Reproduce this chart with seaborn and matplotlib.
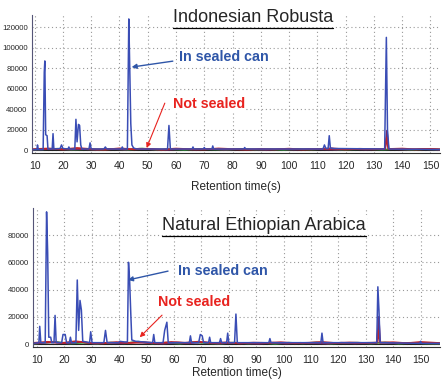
import matplotlib
matplotlib.use("Agg")
import matplotlib.pyplot as plt
import seaborn as sns
from matplotlib.ticker import MultipleLocator
from matplotlib.lines import Line2D

# ---- data ----
# top panel: Indonesian Robusta, sealed can (blue trace)
rob_sealed_t = [9, 10.8, 11, 11.3, 13, 13.4, 13.6, 13.9, 14.4, 14.7, 16.2, 16.5, 16.8,
                19, 19.5, 20, 21.8, 22.1, 22.4, 24.2, 24.6, 25, 25.5, 25.9, 26.3, 26.7,
                29.2, 29.6, 30, 34.5, 35, 35.5, 40.7, 41, 41.3, 42.8, 43.3, 43.6, 44.0,
                44.4, 45, 46, 57, 57.5, 58, 65.7, 66, 66.3, 69.7, 70, 70.3, 72.7, 73, 73.3,
                84, 84.3, 84.6, 112, 112.5, 113, 113.8, 114.2, 114.6, 116,
                133.8, 134.4, 134.8, 135.3, 153.5]
rob_sealed_y = [500, 500, 5000, 500, 500, 76000, 87000, 15000, 14000, 1000, 1000, 16000, 1000,
                1500, 5000, 1500, 1000, 3000, 1000, 1000, 30000, 8000, 25000, 24000, 5000, 1000,
                1000, 7000, 1000, 1000, 3000, 1000, 1000, 3000, 1000, 1000, 128000, 85000, 26000,
                5000, 2000, 1000, 1000, 24000, 1000, 1000, 3000, 1000, 1000, 2500, 1000, 1000, 4000, 1000,
                1000, 2500, 1000, 1000, 5000, 1500, 1500, 14000, 2000, 1500,
                1000, 110000, 20000, 1000, 500]
# top panel: not sealed (red) and other low traces
rob_open_t = [9, 15, 20, 25, 30, 35, 40, 45, 50, 55, 60, 65, 70, 75, 80, 85, 90, 95, 100,
              105, 110, 115, 120, 125, 130, 133.9, 134.5, 135.1, 140, 145, 150, 153.5]
rob_open_y = [800, 1500, 600, 2000, 900, 400, 1600, 700, 1200, 500, 1400, 800, 600, 1500, 900,
              400, 1100, 700, 1300, 500, 900, 1600, 600, 1200, 800, 1000, 12000, 1000, 1400, 600, 1100, 700]
rob_dark_t = [9, 17, 22, 27, 32, 37, 42, 47, 52, 57, 62, 67, 72, 77, 82, 87, 92, 97, 102,
              107, 112, 117, 122, 127, 132, 134, 134.6, 135.2, 142, 147, 153.5]
rob_dark_y = [300, 1200, 500, 900, 300, 1100, 400, 1300, 600, 200, 1000, 500, 1200, 300, 800,
              600, 200, 900, 400, 1000, 700, 300, 1100, 500, 900, 1000, 19000, 1000, 500, 1000, 400]
rob_green_t = [9, 13, 18, 23, 28, 33, 38, 43, 48, 53, 58, 63, 68, 73, 78, 83, 88, 93, 98, 103,
               108, 113, 118, 123, 128, 133, 138, 143, 148, 153.5]
rob_green_y = [200, 700, 1300, 300, 800, 500, 1000, 300, 1500, 400, 900, 200, 1100, 600, 300,
               1200, 400, 800, 200, 1000, 500, 1200, 300, 700, 1000, 400, 1100, 300, 900, 500]

# bottom panel: Natural Ethiopian Arabica, sealed can (blue trace)
eth_sealed_t = [8.5, 10.7, 11, 11.4, 13, 13.5, 13.9, 14.3, 15, 15.4, 16.2, 16.6, 17,
                19, 19.5, 20.3, 20.8, 21.8, 22.2, 22.6, 24.2, 24.7, 25.2, 25.7, 26.2, 26.7,
                29.2, 29.6, 30.1, 34.4, 35, 35.6, 39.8, 40.2, 42, 43, 43.4, 43.8, 44.2, 44.6, 46,
                52.2, 52.6, 53, 56, 56.6, 57.4, 57.9, 65.6, 66, 66.4, 69, 69.6, 70.3, 70.8,
                72.6, 73, 73.4, 76.6, 77, 77.4, 79.2, 79.6, 80, 82.1, 82.6, 83.1,
                94.6, 95, 95.4, 113.6, 114, 114.4, 134, 134.4, 134.8, 135.2,
                149.7, 150, 150.3, 157]
eth_sealed_y = [500, 1000, 13000, 1000, 1000, 97000, 67000, 5000, 5000, 1000, 1000, 21000, 1000,
                1000, 7000, 7000, 1000, 1000, 5000, 1000, 1000, 47000, 10000, 32000, 25000, 2000,
                1000, 9000, 1000, 1000, 10000, 1000, 1000, 2000, 1500, 1500, 60000, 47000, 24000, 3000, 2000,
                1000, 7000, 1000, 1000, 10000, 16000, 1000, 1000, 6000, 1000, 1000, 7000, 6000, 1000,
                1000, 5000, 1000, 1000, 4000, 1000, 1000, 8000, 1000, 1000, 22000, 1000,
                1000, 4000, 1000, 1000, 8000, 1000, 1000, 42000, 25000, 1000,
                500, 2000, 500, 500]
eth_open_t = [8.5, 14, 19, 24, 29, 34, 39, 44, 49, 54, 59, 64, 69, 74, 79, 84, 89, 94, 99,
              104, 109, 114, 119, 124, 129, 134, 134.5, 135, 140, 145, 150, 157]
eth_open_y = [800, 1600, 700, 2000, 900, 500, 1400, 800, 1300, 600, 1500, 900, 1700, 600, 1200,
              500, 1000, 800, 1300, 600, 900, 1500, 700, 1100, 800, 1000, 10000, 1000, 1300, 600, 1500, 700]
eth_dark_t = [8.5, 16, 21, 26, 31, 36, 41, 46, 51, 56, 61, 66, 71, 76, 81, 86, 91, 96, 101,
              106, 111, 116, 121, 126, 131, 134.1, 134.7, 135.3, 141, 146, 157]
eth_dark_y = [300, 1300, 500, 1500, 300, 1000, 500, 1200, 700, 300, 1100, 600, 1400, 300, 900,
              600, 300, 1000, 400, 900, 700, 300, 1000, 500, 800, 1000, 20000, 1000, 600, 900, 400]
eth_green_t = [8.5, 12, 17, 22, 27, 32, 37, 42, 47, 52, 57, 62, 67, 72, 77, 82, 87, 92, 97, 102,
               107, 112, 117, 122, 127, 132, 137, 142, 147, 152, 157]
eth_green_y = [200, 800, 1500, 400, 900, 300, 1100, 500, 1800, 400, 1000, 300, 1300, 600, 300,
               1100, 400, 900, 200, 1000, 500, 1200, 300, 800, 1000, 400, 1200, 300, 900, 400, 300]

# ---- figure ----
sns.set_style("white")
plt.rcParams["font.family"] = ["Liberation Sans", "DejaVu Sans"]

fig = plt.figure(figsize=(4.42, 3.79), dpi=100)
ax1 = fig.add_axes([0.072, 0.596, 0.923, 0.364])
ax2 = fig.add_axes([0.075, 0.084, 0.92, 0.367])

blue = "#3a4db5"
red = "#e8231f"
titles = []


def draw(ax, sealed, others, xlim, ylim, ymax_tick, labelpad, title, title_xy,
         blue_xy, blue_start, blue_tip, red_xy, red_start, red_tip):
    for t, y, c, lw in others:
        sns.lineplot(x=t, y=y, ax=ax, color=c, lw=lw, estimator=None, sort=False)
    sns.lineplot(x=sealed[0], y=sealed[1], ax=ax, color=blue, lw=1.1, estimator=None, sort=False)
    ax.axhline(0, color="#222222", lw=0.8, zorder=1)
    ax.set_xlim(*xlim)
    ax.set_ylim(*ylim)
    ax.set_xticks(range(10, 151, 10))
    ax.set_yticks(range(0, ymax_tick + 1, 20000))
    ax.xaxis.set_minor_locator(MultipleLocator(2))
    ax.yaxis.set_minor_locator(MultipleLocator(4000))
    ax.tick_params(axis="x", which="major", direction="out", length=3, width=0.7, labelsize=7.5, pad=3)
    ax.tick_params(axis="y", which="major", direction="out", length=2, width=0.7, labelsize=5.6, pad=1)
    ax.tick_params(axis="both", which="minor", direction="out", length=1.5, width=0.5)
    ax.grid(True, which="major", color="#999999", ls=(0, (1, 2.5)), lw=0.8)
    for s in ["top", "right"]:
        ax.spines[s].set_visible(False)
    ax.spines["left"].set_color("#555577")
    ax.spines["bottom"].set_color("#333333")
    ax.set_xlabel("Retention time(s)", fontsize=8.5, labelpad=labelpad)
    ax.set_ylabel("")
    tt = ax.text(title_xy[0], title_xy[1], title, transform=ax.transAxes, fontsize=13,
                 ha="center", va="center", bbox=dict(fc="white", ec="none", pad=1))
    titles.append(tt)
    ax.text(blue_xy[0], blue_xy[1], "In sealed can", transform=ax.transAxes, color="#2f56a8",
            fontsize=10.3, fontweight="bold", va="center", bbox=dict(fc="white", ec="none", pad=1))
    ax.annotate("", xy=blue_tip, xytext=blue_start, textcoords="axes fraction",
                arrowprops=dict(arrowstyle="-|>", color="#2f56a8", lw=1, mutation_scale=7, shrinkA=0, shrinkB=0))
    ax.text(red_xy[0], red_xy[1], "Not sealed", transform=ax.transAxes, color=red,
            fontsize=10.3, fontweight="bold", va="center", bbox=dict(fc="white", ec="none", pad=1))
    ax.annotate("", xy=red_tip, xytext=red_start, textcoords="axes fraction",
                arrowprops=dict(arrowstyle="-|>", color=red, lw=0.8, mutation_scale=7, shrinkA=0, shrinkB=0))


# axes-fraction helpers from reference pixel positions
def fx(px, left, width):
    return (px - left) / width


draw(ax1, (rob_sealed_t, rob_sealed_y),
     [(rob_green_t, rob_green_y, "#2e9a3a", 1.2), (rob_dark_t, rob_dark_y, "#7a2a6a", 1.2),
      (rob_open_t, rob_open_y, "#c0232a", 1.3)],
     (9, 153.3), (-3000, 131700), 120000, 7, "Indonesian Robusta",
     (fx(253, 32, 408), (153 - 17) / 138),
     (fx(179, 32, 408), (153 - 57) / 138), (fx(173, 32, 408), (153 - 61) / 138), (44.3, 81000),
     (fx(173, 32, 408), (153 - 104) / 138), (fx(165, 32, 408), (153 - 103) / 138), (49.6, 2000))

draw(ax2, (eth_sealed_t, eth_sealed_y),
     [(eth_green_t, eth_green_y, "#2e9a3a", 1.2), (eth_dark_t, eth_dark_y, "#7a2a6a", 1.2),
      (eth_open_t, eth_open_y, "#c0232a", 1.3)],
     (8.6, 157), (-2300, 99800), 80000, 1, "Natural Ethiopian Arabica",
     (fx(264, 33, 407), (347 - 225) / 139),
     (fx(178, 33, 407), (347 - 271) / 139), (fx(168, 33, 407), (347 - 271) / 139), (43.2, 47000),
     (fx(158, 33, 407), (347 - 302) / 139), (fx(162, 33, 407), (347 - 315) / 139), (47.5, 5000))

# underline the two titles
fig.canvas.draw()
rend = fig.canvas.get_renderer()
for tt in titles:
    bb = tt.get_window_extent(rend)
    x0, y0 = fig.transFigure.inverted().transform((bb.x0, bb.y0 - 2))
    x1, _ = fig.transFigure.inverted().transform((bb.x1, bb.y0 - 2))
    fig.add_artist(Line2D([x0, x1], [y0, y0], color="black", lw=0.9, transform=fig.transFigure))

plt.savefig("out.png", dpi=100)
